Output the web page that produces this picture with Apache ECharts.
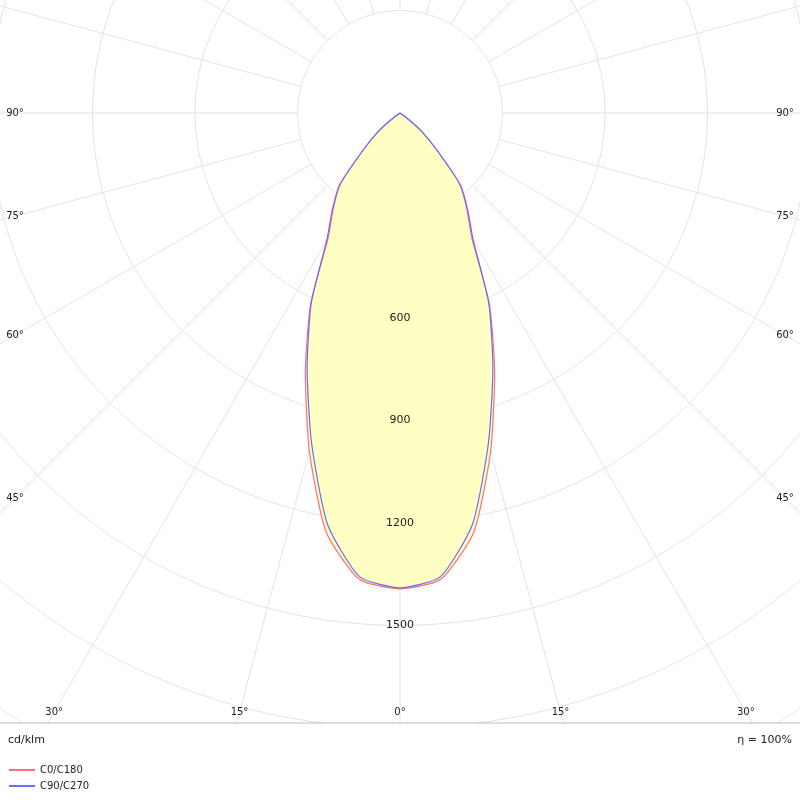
<!DOCTYPE html>
<html><head><meta charset="utf-8">
<script src="https://cdn.jsdelivr.net/npm/echarts@6/dist/echarts.min.js"></script>
<style>html,body{margin:0;padding:0;background:#fff}#c{width:800px;height:800px}</style>
</head><body><div id="c"></div>
<script>
const gammas = [0,5,10,15,20,25,30,35,40,45,50,55,60,65,70,75,80,85,90];
const c0c180 = [1393,1370,1245,1025,810,620,420,340,272,150,80,20,0,0,0,0,0,0,0];
const c90c270 = [1390,1362,1222,1000,795,615,428,345,275,150,80,20,0,0,0,0,0,0,0];
const radiusTicks = [600,900,1200,1500];
const sideLabels = [45,60,75,90];
const bottomLabels = [0,15,30];
const seriesNames = ['C0/C180','C90/C270'];

const cx=400, cy=113, scale=102.5/300, rMax=2400;
function polarData(vals){
  const out=[];
  for(let i=gammas.length-1;i>0;i--) out.push([vals[i],-gammas[i]]);
  for(let i=0;i<gammas.length;i++) out.push([vals[i],gammas[i]]);
  return out;
}
const chart = echarts.init(document.getElementById('c'));
const gray='#e3e3e3';
const graphics=[];
function txt(s,x,y,align,size){
  return {type:'text',x:x,y:y,z:42,style:{text:s,align:align||'center',verticalAlign:'middle',font:(size||10)+'px "DejaVu Sans"',fill:'#222'}};
}
radiusTicks.forEach(v=>{const t=txt(String(v),cx,cy+v*scale,'center',11);t.z=30;graphics.push(t);});
graphics.push({type:'rect',shape:{x:0,y:723,width:800,height:77},style:{fill:'#fff'},z:40});
graphics.push({type:'line',shape:{x1:0,y1:723,x2:800,y2:723},style:{stroke:'#bbb',lineWidth:1},z:41});
graphics.push(txt('cd/klm',8,740,'left',11));
graphics.push(txt('η = 100%',792,740,'right',11));
sideLabels.forEach(a=>{
  const y=cy+(cx-15)/Math.tan(a*Math.PI/180);
  [15,785].forEach(x=>graphics.push(txt(a+'°',x,y)));
});
bottomLabels.forEach(a=>{
  const dx=(712-cy)*Math.tan(a*Math.PI/180);
  const xs = a===0?[cx]:[cx-dx,cx+dx];
  xs.forEach(x=>graphics.push(txt(a+'°',x,712)));
});
const R=rMax*scale;
chart.setOption({
  animation:false,
  polar:[{center:[cx,cy],radius:[300*scale,R]},{center:[cx,cy],radius:[0,R]}],
  angleAxis:[
    {polarIndex:0,type:'value',min:-180,max:180,interval:15,startAngle:90,clockwise:true,
     axisLine:{show:false},axisTick:{show:false},axisLabel:{show:false},splitLine:{show:true,lineStyle:{color:gray,width:1}}},
    {polarIndex:1,type:'value',min:-180,max:180,startAngle:90,clockwise:true,
     axisLine:{show:false},axisTick:{show:false},axisLabel:{show:false},splitLine:{show:false}}
  ],
  radiusAxis:[
    {polarIndex:0,type:'value',min:300,max:rMax,interval:300,axisLine:{show:false},axisTick:{show:false},axisLabel:{show:false},splitLine:{show:true,lineStyle:{color:gray,width:1}}},
    {polarIndex:1,type:'value',min:0,max:rMax,axisLine:{show:false},axisTick:{show:false},axisLabel:{show:false},splitLine:{show:false}}
  ],
  legend:{orient:'vertical',left:4,top:760,itemGap:6,itemWidth:26,itemHeight:2,icon:'rect',
    textStyle:{fontSize:10,fontFamily:'DejaVu Sans',color:'#222'},data:seriesNames,z:45},
  series:[
    {name:seriesNames[0],type:'line',coordinateSystem:'polar',polarIndex:1,data:polarData(c0c180),symbol:'none',smooth:0.2,
     lineStyle:{color:'#ff7070',width:1.2},itemStyle:{color:'#ff7070'},areaStyle:{color:'#ffffc4',opacity:1},z:3},
    {name:seriesNames[1],type:'line',coordinateSystem:'polar',polarIndex:1,data:polarData(c90c270),symbol:'none',smooth:0.2,
     lineStyle:{color:'#6a6aff',width:1.2},itemStyle:{color:'#6a6aff'},z:4}
  ],
  graphic:graphics
});
</script></body></html>
